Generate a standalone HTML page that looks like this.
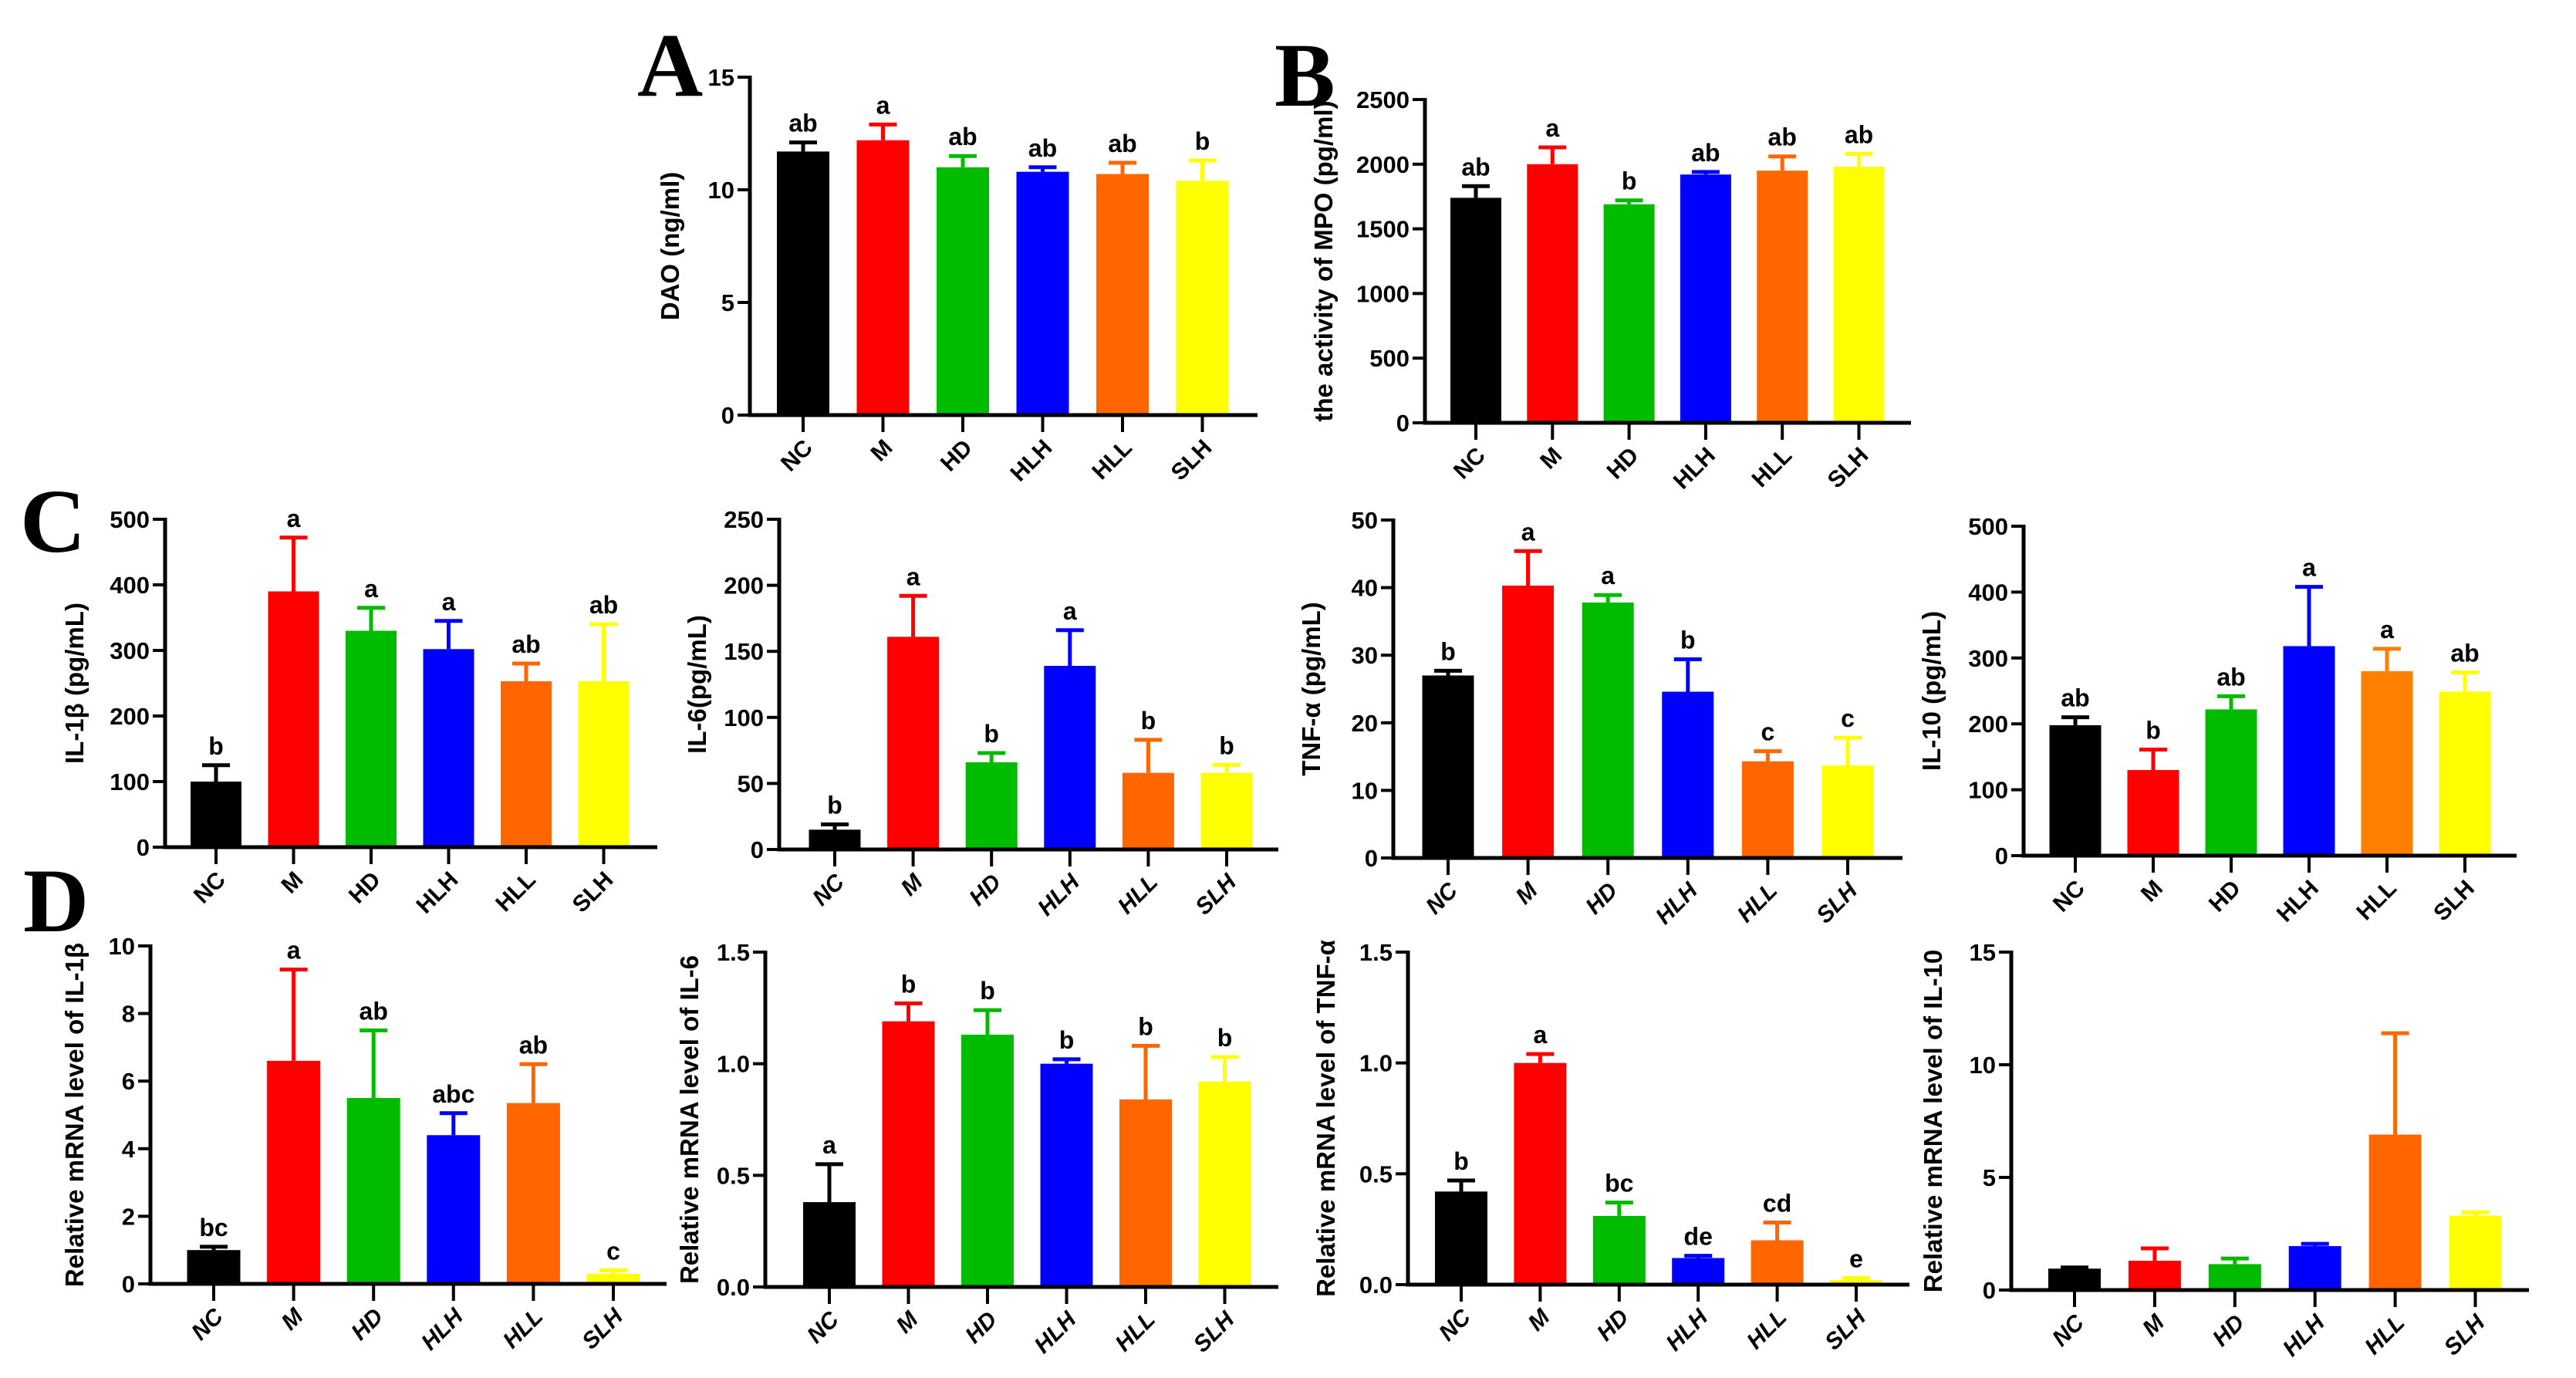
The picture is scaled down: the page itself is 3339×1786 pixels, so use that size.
<!DOCTYPE html>
<html><head><meta charset="utf-8">
<style>
html,body{margin:0;padding:0;background:#fff;}
svg{display:block;}
text{font-family:"Liberation Sans",Arial,sans-serif;}
</style></head>
<body>
<svg id="fig" width="3339" height="1786" viewBox="0 0 3339 1786" xmlns="http://www.w3.org/2000/svg">
<text x="826" y="124" style="font-family:'Liberation Serif',serif;font-weight:bold;font-size:118px">A</text>
<text x="1652" y="137" style="font-family:'Liberation Serif',serif;font-weight:bold;font-size:118px">B</text>
<text x="26" y="715" style="font-family:'Liberation Serif',serif;font-weight:bold;font-size:118px">C</text>
<text x="30" y="1207" style="font-family:'Liberation Serif',serif;font-weight:bold;font-size:118px">D</text>
</svg>
<script>
const categories = ["NC","M","HD","HLH","HLL","SLH"];
const colorsA = ["#000000","#ff0000","#00bb00","#0000ff","#ff6600","#ffff00"];
const colorsC4 = ["#000000","#ff0000","#00bb00","#0000ff","#ff8000","#ffff00"];

const daoValues = [11.7,12.2,11.0,10.8,10.7,10.4];
const daoErrors = [0.4,0.7,0.5,0.2,0.5,0.9];
const daoLetters = ["ab","a","ab","ab","ab","b"];
const daoTicks = [0,5,10,15];

const mpoValues = [1740,2000,1690,1920,1950,1980];
const mpoErrors = [90,130,30,20,110,100];
const mpoLetters = ["ab","a","b","ab","ab","ab"];
const mpoTicks = [0,500,1000,1500,2000,2500];

const il1bValues = [100,390,330,302,253,253];
const il1bErrors = [25,82,35,43,27,87];
const il1bLetters = ["b","a","a","a","ab","ab"];
const il1bTicks = [0,100,200,300,400,500];

const il6Values = [15,161,66,139,58,58];
const il6Errors = [4,31,7,27,25,6];
const il6Letters = ["b","a","b","a","b","b"];
const il6Ticks = [0,50,100,150,200,250];

const tnfValues = [27,40.3,37.8,24.6,14.3,13.7];
const tnfErrors = [0.7,5.1,1.1,4.8,1.5,4.1];
const tnfLetters = ["b","a","a","b","c","c"];
const tnfTicks = [0,10,20,30,40,50];

const il10Values = [198,130,222,318,280,249];
const il10Errors = [12,31,20,90,34,29];
const il10Letters = ["ab","b","ab","a","a","ab"];
const il10Ticks = [0,100,200,300,400,500];

const mIl1bValues = [1.0,6.6,5.5,4.4,5.35,0.3];
const mIl1bErrors = [0.1,2.7,2.0,0.65,1.15,0.1];
const mIl1bLetters = ["bc","a","ab","abc","ab","c"];
const mIl1bTicks = [0,2,4,6,8,10];

const mIl6Values = [0.38,1.19,1.13,1.0,0.84,0.92];
const mIl6Errors = [0.17,0.08,0.11,0.02,0.24,0.11];
const mIl6Letters = ["a","b","b","b","b","b"];
const mIl6Ticks = [0,0.5,1.0,1.5];

const mTnfValues = [0.42,1.0,0.31,0.12,0.2,0.02];
const mTnfErrors = [0.05,0.04,0.06,0.01,0.08,0.01];
const mTnfLetters = ["b","a","bc","de","cd","e"];
const mTnfTicks = [0,0.5,1.0,1.5];

const mIl10Values = [0.95,1.3,1.15,1.95,6.9,3.3];
const mIl10Errors = [0.05,0.55,0.25,0.1,4.5,0.15];
const mIl10Letters = ["","","","","",""];
const mIl10Ticks = [0,5,10,15];

const NS = "http://www.w3.org/2000/svg";
const svg = document.getElementById("fig");
function mk(tag, attrs, parent){
  const e = document.createElementNS(NS, tag);
  for (const k in attrs) e.setAttribute(k, attrs[k]);
  (parent||svg).appendChild(e);
  return e;
}

function panel(cfg, values, errors, letters, ticks, colors){
  const g = mk("g", {});
  
  
  const max = ticks[ticks.length-1];
  const yScale = v => cfg.y0 - (v / max) * (cfg.y0 - cfg.yTop);
  const xScale = i => cfg.x0 + i * cfg.step;
  values.forEach((v,i)=>{
    const cx = xScale(i), w = cfg.bw;
    const r = mk("rect", {x: cx - w/2, y: yScale(v), width: w, height: cfg.y0 - yScale(v), fill: colors[i]}, g);
    
    
    const top = yScale(v + errors[i]);
    const eb = mk("path", {d: `M${cx},${yScale(v)} V${top} M${cx-18},${top} H${cx+18}`, stroke: colors[i], "stroke-width": 5, fill: "none"}, g);
    
    
    if (letters[i]) {
      const t = mk("text", {x: cx, y: top - 14, "text-anchor": "middle", "font-size": 32, "font-weight": "bold"}, g);
      t.textContent = letters[i];
      
      
    }
    mk("line", {x1: cx, y1: cfg.y0, x2: cx, y2: cfg.y0 + 22, stroke: "#000", "stroke-width": 4}, g);
    const lx = cx + 14, ly = cfg.y0 + 44;
    const ct = mk("text", {x: lx, y: ly, "text-anchor": "end", "font-size": 30, "font-weight": "bold",
      "font-style": cfg.italic ? "italic" : "normal",
      transform: `rotate(-45 ${lx} ${ly})`}, g);
    ct.textContent = categories[i];
    
    
  });
  const ax = mk("path", {d: `M${cfg.ax},${cfg.yTop-2} V${cfg.y0} H${cfg.xEnd}`, stroke: "#000", "stroke-width": 5, fill: "none"}, g);
  
  
  ticks.forEach(t=>{
    const y = yScale(t);
    mk("line", {x1: cfg.ax - 16, y1: y, x2: cfg.ax, y2: y, stroke: "#000", "stroke-width": 4}, g);
    const tl = mk("text", {x: cfg.ax - 20, y: y + 11, "text-anchor": "end", "font-size": 31, "font-weight": "bold"}, g);
    tl.textContent = cfg.dec ? t.toFixed(1) : String(t);
    
    
  });
  const tx = cfg.ax - cfg.titleOff, ty = (cfg.yTop + cfg.y0) / 2;
  const tt = mk("text", {x: tx, y: ty, "text-anchor": "middle", "font-size": 33, "font-weight": "bold", transform: `rotate(-90 ${tx} ${ty})`}, g);
  tt.textContent = cfg.title;
  
  
}

panel({name:"chart-dao", ax:972, yTop:100, y0:538, xEnd:1630, x0:1041, step:103.5, bw:68, titleOff:92, title:"DAO (ng/ml)"}, daoValues, daoErrors, daoLetters, daoTicks, colorsA);
panel({name:"chart-mpo", ax:1847, yTop:129, y0:548, xEnd:2477, x0:1913, step:99.3, bw:66, titleOff:120, title:"the activity of MPO (pg/ml)"}, mpoValues, mpoErrors, mpoLetters, mpoTicks, colorsA);
panel({name:"chart-il1b", ax:214, yTop:673, y0:1098, xEnd:852, x0:280, step:100.5, bw:66, titleOff:106, title:"IL-1β (pg/mL)"}, il1bValues, il1bErrors, il1bLetters, il1bTicks, colorsA);
panel({name:"chart-il6", ax:1010, yTop:673, y0:1101, xEnd:1657, x0:1082, step:101.6, bw:67, titleOff:95, title:"IL-6(pg/mL)", italic:true}, il6Values, il6Errors, il6Letters, il6Ticks, colorsA);
panel({name:"chart-tnf", ax:1806, yTop:674, y0:1112, xEnd:2466, x0:1877, step:103.6, bw:67, titleOff:95, title:"TNF-α (pg/mL)", italic:true}, tnfValues, tnfErrors, tnfLetters, tnfTicks, colorsA);
panel({name:"chart-il10", ax:2623, yTop:682, y0:1109, xEnd:3262, x0:2690, step:101, bw:67, titleOff:108, title:"IL-10 (pg/mL)"}, il10Values, il10Errors, il10Letters, il10Ticks, colorsC4);
panel({name:"chart-mrna-il1b", ax:195, yTop:1226, y0:1664, xEnd:864, x0:277, step:103.6, bw:69, titleOff:87, title:"Relative mRNA level of IL-1β", italic:true}, mIl1bValues, mIl1bErrors, mIl1bLetters, mIl1bTicks, colorsA);
panel({name:"chart-mrna-il6", ax:992, yTop:1234, y0:1668, xEnd:1657, x0:1075, step:102.5, bw:68, titleOff:87, title:"Relative mRNA level of IL-6", italic:true, dec:true}, mIl6Values, mIl6Errors, mIl6Letters, mIl6Ticks, colorsA);
panel({name:"chart-mrna-tnf", ax:1825, yTop:1234, y0:1665, xEnd:2475, x0:1894, step:102.4, bw:68, titleOff:95, title:"Relative mRNA level of TNF-α", italic:true, dec:true}, mTnfValues, mTnfErrors, mTnfLetters, mTnfTicks, colorsA);
panel({name:"chart-mrna-il10", ax:2607, yTop:1234, y0:1672, xEnd:3278, x0:2689, step:103.9, bw:68, titleOff:90, title:"Relative mRNA level of IL-10", italic:true}, mIl10Values, mIl10Errors, mIl10Letters, mIl10Ticks, colorsA);
</script>
</body></html>
